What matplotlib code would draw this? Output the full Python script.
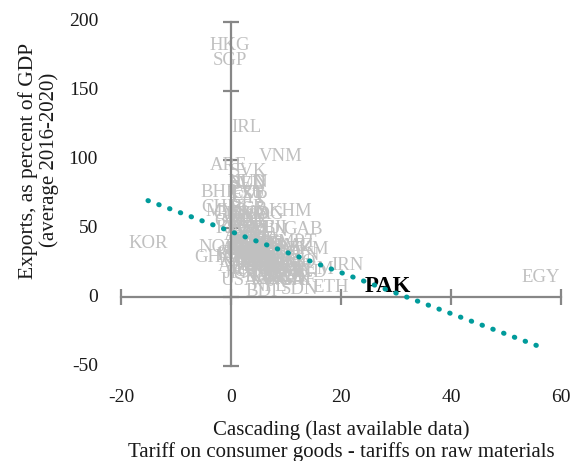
import matplotlib
matplotlib.use("Agg")
import matplotlib.pyplot as plt
import numpy as np

plt.rcParams["font.family"] = ["Liberation Serif", "DejaVu Serif"]

# cascading (pp) and exports (% of GDP) by country
countries = [
    "HKG", "SGP", "IRL", "VNM", "ARE", "SVK", "KOR", "EGY", "IRN", "GAB",
    "KHM", "BHR", "CHE", "MYS", "NOR", "GHA", "KAZ", "TKM", "TCD", "BDI",
    "SDN", "ETH",
    "AUT", "BEL", "BGR", "HRV", "CYP", "CZE", "DNK", "EST", "FIN", "FRA",
    "DEU", "GRC", "HUN", "ITA", "LVA", "LTU", "NLD", "POL", "PRT", "ROU",
    "SVN", "ESP", "SWE",
    "USA", "CAN", "MEX", "BRA", "ARG", "CHL", "COL", "PER", "ECU", "BOL",
    "PRY", "URY", "CRI", "PAN", "GTM", "HND", "SLV", "NIC", "DOM", "JAM",
    "CHN", "JPN", "IND", "IDN", "THA", "PHL", "LKA", "BGD", "NPL", "MNG",
    "KGZ", "UZB", "AZE", "ARM", "GEO", "TUR", "ISR", "JOR", "SAU", "OMN",
    "KWT", "QAT", "ZAF", "NGA", "KEN", "CIV", "SEN", "CMR", "TZA", "UGA",
    "RWA", "MOZ", "ZMB", "ZWE", "MWI", "MDG", "MAR", "TUN", "DZA", "NAM",
    "BWA", "MUS", "BEN", "BFA", "MLI", "NER", "TGO", "GIN", "MRT", "AGO",
    "COG", "CAF", "NZL", "AUS", "RUS", "UKR", "BLR", "MDA", "SRB", "MKD",
    "ALB", "BIH", "MNE", "LAO", "MMR", "FJI", "TTO", "LBN", "YEM",
]
cascading = [
    -0.2, -0.2, 2.9, 9.1, -0.5, 3.1, -15.1, 56.4, 21.1, 13.1,
    10.7, -2.0, -2.0, -1.0, -2.3, -3.0, 11.5, 14.0, 14.0, 5.6,
    12.5, 18.2,
    3.0, 2.8, 3.2, 3.0, 3.3, 3.1, 2.9, 3.2, 3.0, 2.8,
    3.1, 3.2, 3.0, 2.9, 3.3, 3.1, 2.8, 3.0, 3.2, 3.1,
    3.0, 2.9, 3.1,
    1.5, 1.0, 4.0, 6.0, 8.0, 2.0, 7.0, 4.0, 5.0, 6.0,
    6.0, 4.0, 4.0, 3.0, 5.0, 6.0, 6.0, 6.0, 6.0, 7.0,
    4.0, 1.5, 9.0, 3.0, 4.0, 5.0, 8.0, 10.0, 7.0, 2.0,
    4.0, 5.0, 2.0, 2.0, 3.0, 5.0, 0.0, 7.0, 2.0, 1.0,
    1.0, 0.0, 5.0, 10.0, 7.0, 8.0, 9.0, 11.0, 10.0, 10.0,
    9.0, 9.0, 5.0, 8.0, 10.0, 9.0, 10.0, 7.0, 6.0, 4.0,
    3.0, 5.0, 11.0, 10.0, 10.0, 11.0, 12.0, 13.0, 12.0, 6.0,
    6.0, 12.0, 1.0, 1.0, 4.0, 5.0, 3.0, 6.0, 5.0, 3.0,
    5.0, 4.0, 4.0, 9.0, 9.0, 8.0, 2.0, 5.0, 15.0,
]
exports = [
    183, 172, 123, 102, 96, 91, 39, 14.5, 23, 49.5,
    62, 76, 65, 62, 36, 29, 37, 35, 18, 4.4,
    5.8, 7.3,
    55, 82, 64, 50, 72, 75, 58, 74, 38, 31,
    47, 37, 83, 31, 61, 75, 83, 54, 43, 41,
    82, 34, 45,
    12, 32, 38, 14, 13, 29, 15, 24, 23, 25,
    35, 25, 33, 40, 18, 37, 28, 40, 22, 32,
    19, 17, 19, 20, 60, 28, 22, 13, 8, 55,
    35, 25, 45, 35, 50, 30, 30, 38, 32, 55,
    50, 60, 30, 12, 13, 23, 24, 19, 15, 18,
    20, 35, 38, 25, 15, 28, 37, 48, 22, 38,
    35, 38, 22, 25, 23, 14, 25, 30, 40, 30,
    60, 12, 27, 22, 28, 42, 65, 30, 50, 60,
    30, 40, 42, 32, 23, 50, 50, 25, 20,
]

highlight = "PAK"
highlight_x = 28.5
highlight_y = 8.0

# linear trend fitted in the spreadsheet
trend_slope = -1.49
trend_intercept = 47.7

x_ticks = [-20, 0, 20, 40, 60]
y_ticks = [-50, 0, 50, 100, 150, 200]

axis_grey = "#878787"
label_grey = "#C0C0C0"
text_col = "#1a1a1a"

fig = plt.figure(figsize=(5.74, 4.61), dpi=100)
ax = fig.add_axes([121 / 574, 95 / 461, 440 / 574, 344 / 461])
ax.set_xlim(-20, 60)
ax.set_ylim(-50, 200)

for side in ["top", "right"]:
    ax.spines[side].set_visible(False)
for side in ["left", "bottom"]:
    ax.spines[side].set_position(("data", 0))
    ax.spines[side].set_color(axis_grey)
    ax.spines[side].set_linewidth(1.6)
ax.set_xticks(x_ticks)
ax.set_yticks(y_ticks)
ax.tick_params(direction="inout", length=11, width=1.6, color=axis_grey,
               labelbottom=False, labelleft=False)

# tick labels sit at the low end of each axis
for t in x_ticks:
    ax.annotate(str(t), (t, 0), xycoords=("data", "axes fraction"),
                xytext=(0, -31), textcoords="offset pixels",
                ha="center", va="center", fontsize=14, color=text_col)
for t in y_ticks:
    ax.annotate(str(t), (0, t), xycoords=("axes fraction", "data"),
                xytext=(-23, 0), textcoords="offset pixels",
                ha="right", va="center", fontsize=14, color=text_col)

for name, cx, ey in zip(countries, cascading, exports):
    ax.text(cx, ey, name, ha="center", va="center", fontsize=13.5,
            color=label_grey, zorder=2)
ax.text(highlight_x, highlight_y, highlight, ha="center", va="center",
        fontsize=16.5, fontweight="bold", color="black", zorder=3)

all_x = np.array(cascading + [highlight_x])
tx = np.linspace(all_x.min(), all_x.max(), 50)
ax.plot(tx, trend_slope * tx + trend_intercept, color="#009B9B",
        linestyle=(0, (0.1, 2.2)), linewidth=3.6, dash_capstyle="round",
        zorder=4)

fig.text(341 / 574, 1 - 430 / 461, "Cascading (last available data)",
         ha="center", va="center", fontsize=15, color=text_col)
fig.text(341 / 574, 1 - 452 / 461,
         "Tariff on consumer goods - tariffs on raw materials",
         ha="center", va="center", fontsize=15, color=text_col)
fig.text(28 / 574, 1 - 161 / 461, "Exports, as percent of GDP",
         rotation=90, ha="center", va="center", fontsize=15.5,
         color=text_col)
fig.text(49 / 574, 1 - 160 / 461, "(average 2016-2020)",
         rotation=90, ha="center", va="center", fontsize=15,
         color=text_col)

fig.savefig("out.png", dpi=100)
